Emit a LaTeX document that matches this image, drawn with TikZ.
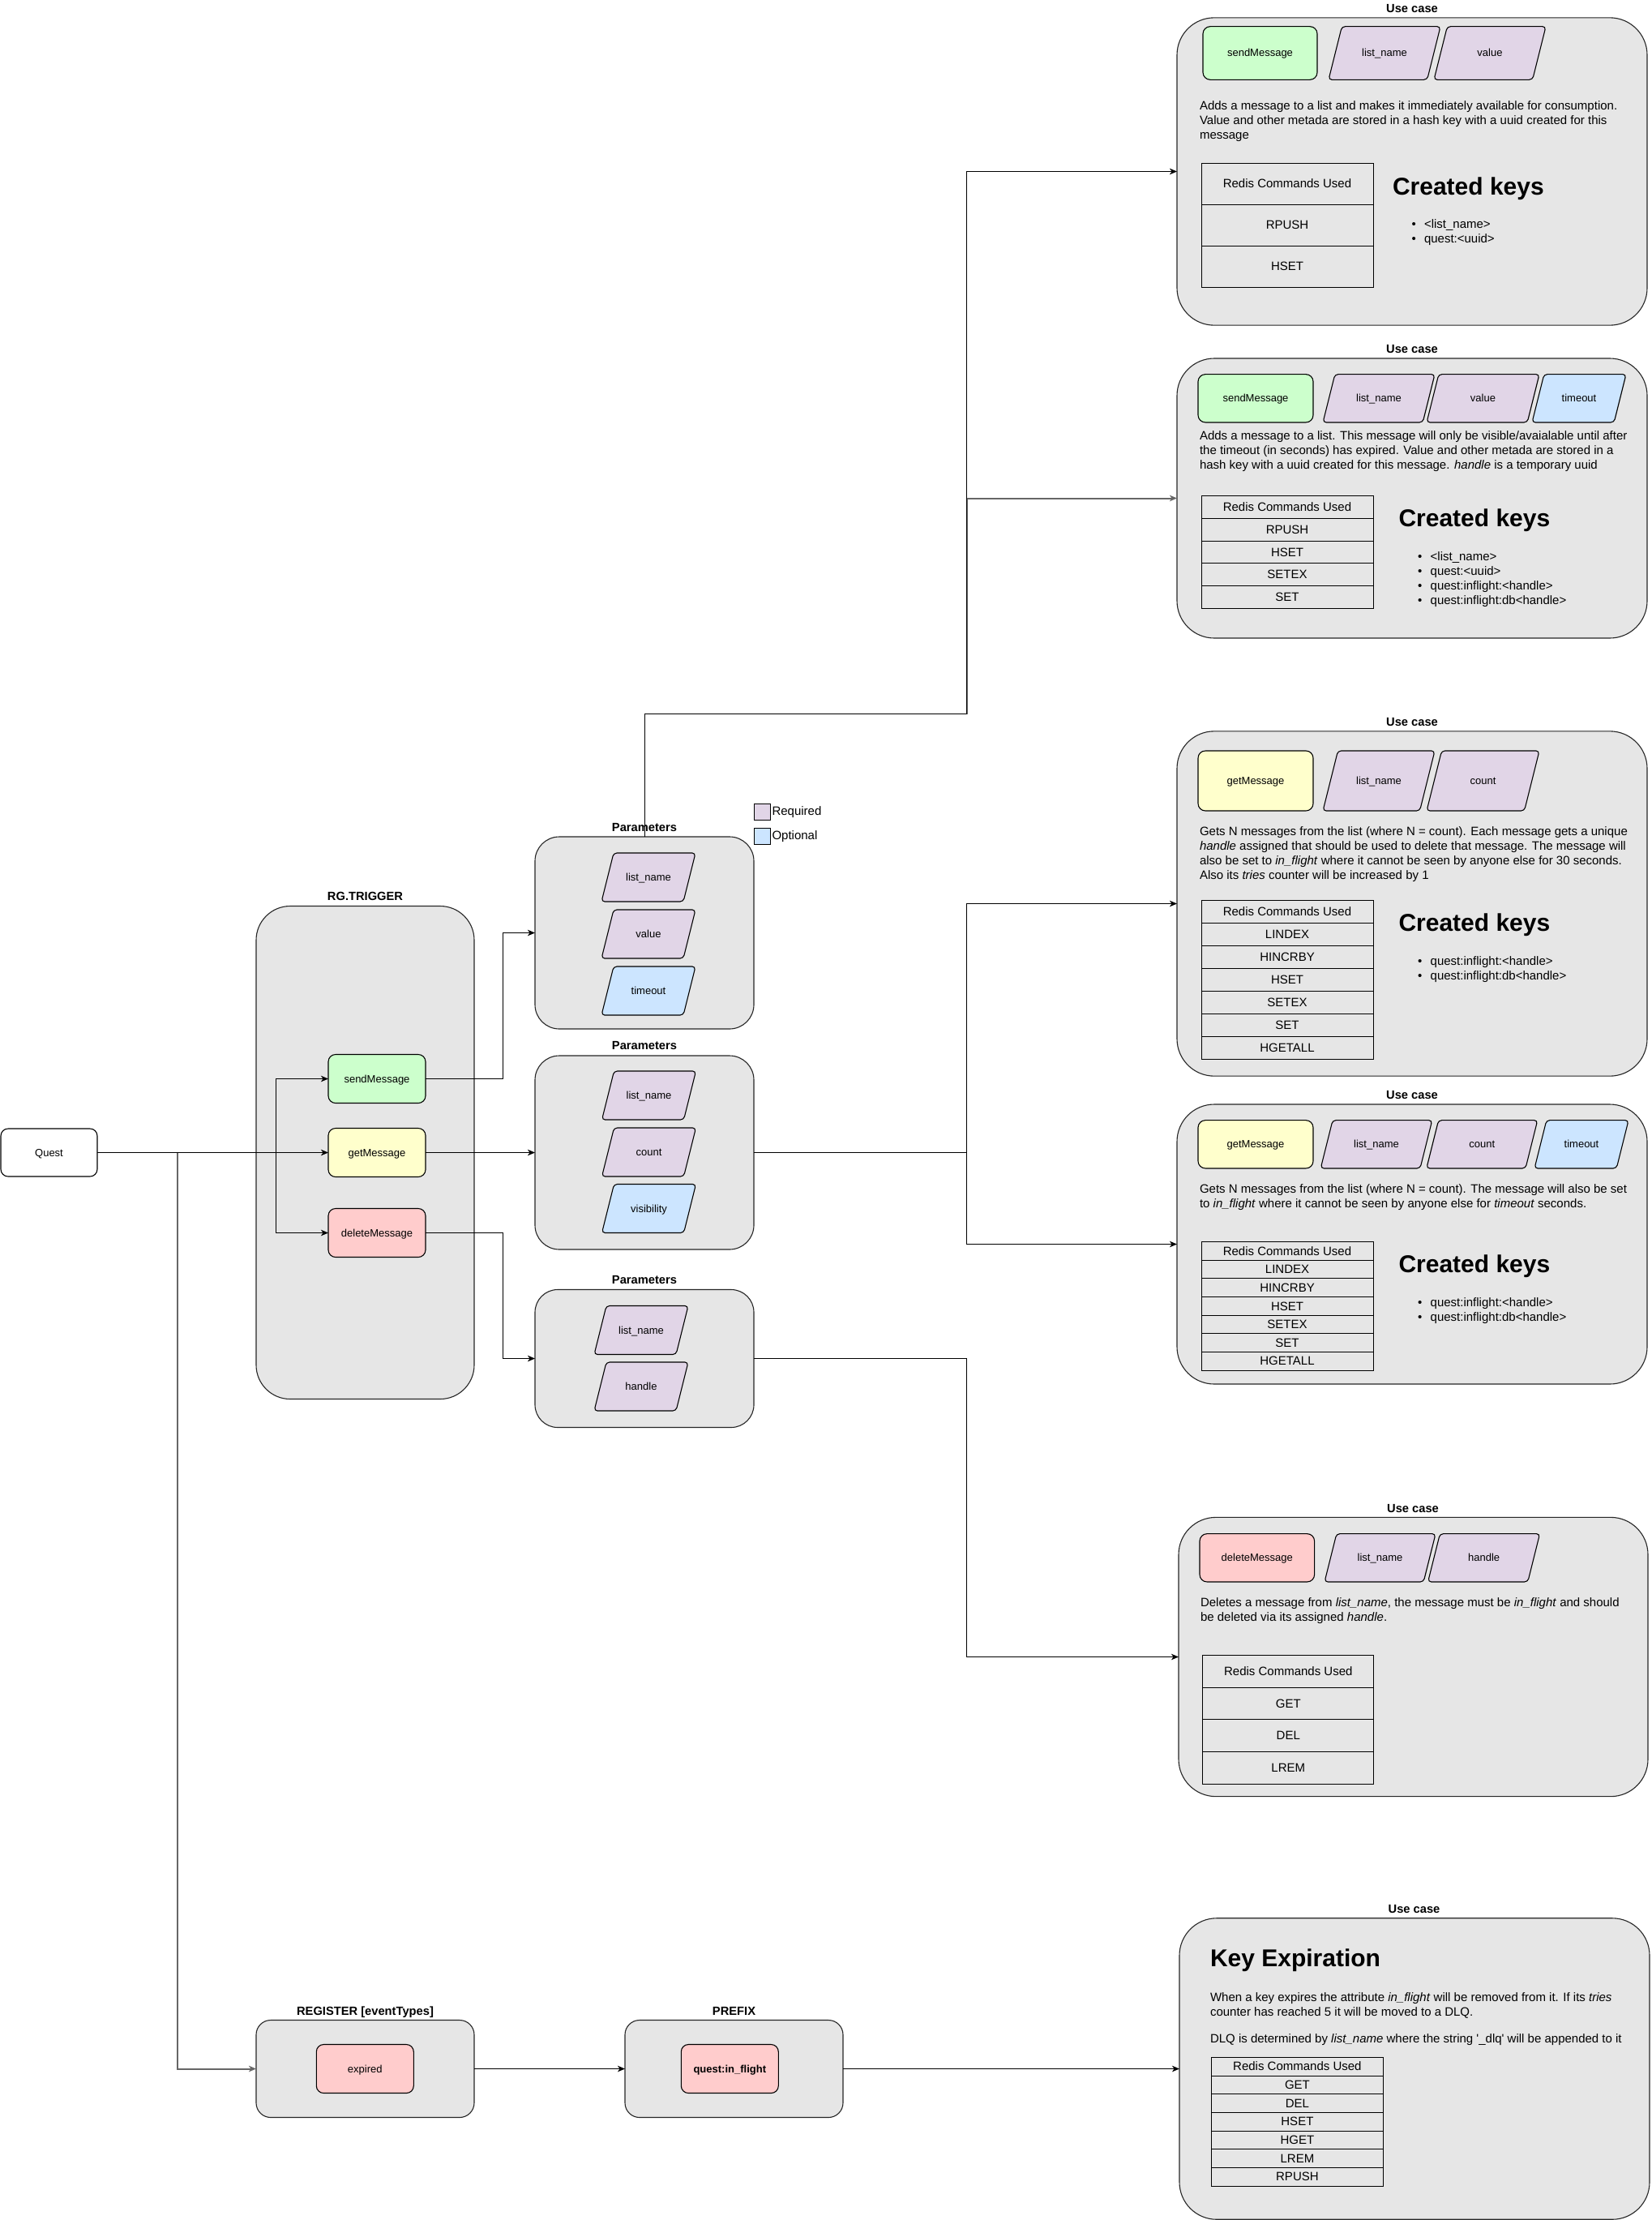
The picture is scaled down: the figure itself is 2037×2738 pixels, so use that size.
\documentclass[tikz,border=0pt]{standalone}
\usepackage{fontspec}
\setmainfont{Liberation Sans}
\usetikzlibrary{arrows.meta}
\definecolor{cgray}{HTML}{E6E6E6}
\definecolor{cgreen}{HTML}{CCFFCC}
\definecolor{cyellow}{HTML}{FFFFCC}
\definecolor{cred}{HTML}{FFCCCC}
\definecolor{cpurple}{HTML}{E1D5E7}
\definecolor{cblue}{HTML}{CCE5FF}
\definecolor{cline}{HTML}{666666}
\newcommand{\flbl}{\fontsize{13}{15}\selectfont}
\newcommand{\fdesc}{\fontsize{15}{18}\selectfont}
\newcommand{\fttl}{\fontsize{14.7}{17}\selectfont\bfseries}
\newcommand{\fhead}{\fontsize{30}{34}\selectfont\bfseries}
\tikzset{
  every node/.style={inner sep=0pt, outer sep=0pt},
  container/.style={draw=black!85, fill=cgray, line width=1.1pt},
  fnode/.style={draw=black, line width=1.1pt, rounded corners=9pt, font=\flbl, text height=11.8pt, text depth=2.8pt},
  lbl/.style={font=\flbl, text height=11.8pt, text depth=2.8pt},
  cell/.style={draw=black, line width=1pt, font=\fdesc, text height=13.6pt, text depth=3.2pt},
  ttl/.style={font=\fttl, anchor=base},
  dtext/.style={font=\fdesc, anchor=base west},
  conn/.style={draw=black, line width=1pt, -{Stealth[length=9pt,width=7.5pt,inset=2.5pt]}},
  gconn/.style={draw=cline, line width=2pt, -{Stealth[length=9pt,width=7.5pt,inset=2.5pt]}},
}
% parallelogram: name, cx, cy, w, h, fill, text
\newcommand{\pgm}[7]{%
  \pgfmathsetmacro{\pgmsl}{0.25*#5}%
  \draw[draw=black, line width=1.1pt, fill=#6, rounded corners=4pt]
    (#2, #3+#5/2) -- (#2-#4/2, #3+#5/2) -- (#2-#4/2+\pgmsl, #3-#5/2)
    -- (#2+#4/2, #3-#5/2) -- (#2+#4/2-\pgmsl, #3+#5/2) -- cycle;
  \node[lbl] (#1) at (#2,#3) {#7};
}
% table: name prefix, xleft, ytop, w, rowh, items
\newcommand{\ctable}[6]{%
  \foreach \t [count=\i from 0] in {#6} {
    \node[cell, minimum width=#4pt, minimum height=#5pt, anchor=north west] (#1\i) at (#2, #3+\i*#5) {\t};
  }
}
% bullet line: name, x, baseline, text
\newcommand{\bl}[4]{\node[dtext] (#1) at (#2,#3) {\makebox[15.5pt][l]{•}#4};}
\begin{document}
\begin{tikzpicture}[x=1pt,y=-1pt]
\useasboundingbox (0,0) rectangle (2037,2738);
\fill[white] (0,0) rectangle (2037,2738);

% ---------- containers ----------
\node[container, rounded corners=42pt, minimum width=269pt, minimum height=608pt] (rg) at (450.5,1421.5) {};
\node[ttl] (trg) at (450.5,1110.5) {RG.TRIGGER};

\node[container, rounded corners=30pt, minimum width=270pt, minimum height=237pt] (p1) at (795,1150.5) {};
\node[ttl] (tp1) at (795,1025.5) {Parameters};
\node[container, rounded corners=30pt, minimum width=270pt, minimum height=239pt] (p2) at (795,1421.5) {};
\node[ttl] (tp2) at (795,1294.5) {Parameters};
\node[container, rounded corners=28pt, minimum width=270pt, minimum height=170pt] (p3) at (795,1675.5) {};
\node[ttl] (tp3) at (795,1583.5) {Parameters};

\node[container, rounded corners=18pt, minimum width=269pt, minimum height=120pt] (reg) at (450.5,2551.5) {};
\node[ttl] (treg) at (450.5,2485.3) {REGISTER [eventTypes]};
\node[container, rounded corners=18pt, minimum width=269pt, minimum height=120pt] (pre) at (905.5,2551.5) {};
\node[ttl] (tpre) at (905.5,2485.3) {PREFIX};

\node[container, rounded corners=46pt, minimum width=580pt, minimum height=379.3pt] (uc1) at (1742,211.5) {};
\node[ttl] (tuc1) at (1742,15.3) {Use case};
\node[container, rounded corners=46pt, minimum width=580pt, minimum height=345pt] (uc2) at (1742,614.5) {};
\node[ttl] (tuc2) at (1742,435.3) {Use case};
\node[container, rounded corners=46pt, minimum width=580pt, minimum height=425.3pt] (uc3) at (1742,1114.5) {};
\node[ttl] (tuc3) at (1742,895.3) {Use case};
\node[container, rounded corners=46pt, minimum width=580pt, minimum height=345pt] (uc4) at (1742,1534.5) {};
\node[ttl] (tuc4) at (1742,1355.3) {Use case};
\node[container, rounded corners=46pt, minimum width=579pt, minimum height=344.3pt] (uc5) at (1743.5,2043.5) {};
\node[ttl] (tuc5) at (1743,1865.3) {Use case};
\node[container, rounded corners=46pt, minimum width=580pt, minimum height=371.5pt] (uc6) at (1745,2551.5) {};
\node[ttl] (tuc6) at (1744.5,2359.3) {Use case};

% ---------- left nodes ----------
\node[fnode, fill=white, minimum width=119pt, minimum height=59pt] (quest) at (60.5,1421.5) {Quest};
\node[fnode, fill=cgreen, minimum width=120pt, minimum height=60pt] (send) at (465,1330.5) {sendMessage};
\node[fnode, fill=cyellow, minimum width=120pt, minimum height=60pt] (get) at (465,1421.5) {getMessage};
\node[fnode, fill=cred, minimum width=120pt, minimum height=60pt] (del) at (465,1520.5) {deleteMessage};
\node[fnode, fill=cred, minimum width=120pt, minimum height=60pt] (expired) at (450.3,2551.5) {expired};
\node[fnode, fill=cred, minimum width=120pt, minimum height=60pt, font=\flbl\bfseries] (qif) at (900.3,2551.5) {quest:in\_flight};

% parameters
\pgm{p1a}{800}{1082}{116}{60}{cpurple}{list\_name}
\pgm{p1b}{800}{1152}{116}{60}{cpurple}{value}
\pgm{p1c}{800}{1222}{116}{60}{cblue}{timeout}
\pgm{p2a}{800.5}{1351}{116}{60}{cpurple}{list\_name}
\pgm{p2b}{800.5}{1421}{116}{60}{cpurple}{count}
\pgm{p2c}{800.5}{1490.5}{116}{60}{cblue}{visibility}
\pgm{p3a}{791}{1640.5}{116}{60}{cpurple}{list\_name}
\pgm{p3b}{791}{1710}{116}{60}{cpurple}{handle}

% legend
\node[draw=black, line width=1pt, fill=cpurple, minimum width=20pt, minimum height=20pt] (lreq) at (940.7,1001.7) {};
\node[dtext, anchor=west, text height=11pt, text depth=3pt] (lreqt) at (952.5,1001.7) {Required};
\node[draw=black, line width=1pt, fill=cblue, minimum width=20pt, minimum height=20pt] (lopt) at (940.7,1031.7) {};
\node[dtext, anchor=west, text height=11pt, text depth=3pt] (loptt) at (952.5,1031.7) {Optional};

% ---------- use case 1 ----------
\node[fnode, fill=cgreen, minimum width=141pt, minimum height=65.6pt] (u1s) at (1554.5,65.5) {sendMessage};
\pgm{u1a}{1708}{65.5}{138}{65.6}{cpurple}{list\_name}
\pgm{u1b}{1838}{65.5}{138}{65.6}{cpurple}{value}
\node[dtext] (d1a) at (1480,135.5) {Adds a message to a list and makes it immediately available for consumption.};
\node[dtext] (d1b) at (1480,153.5) {Value and other metada are stored in a hash key with a uuid created for this};
\node[dtext] (d1c) at (1480,171.5) {message};
\ctable{ta}{1482}{201}{212}{51}{Redis Commands Used,RPUSH,HSET}
\node[font=\fhead, anchor=base west] (ck1) at (1718,240) {Created keys};
\bl{b1a}{1741.5}{281.5}{<list\_name>}
\bl{b1b}{1741.5}{299.5}{quest:<uuid>}

% ---------- use case 2 ----------
\node[fnode, fill=cgreen, minimum width=142pt, minimum height=59.3pt] (u2s) at (1549,491.3) {sendMessage};
\pgm{u2a}{1701}{491.3}{138}{59.3}{cpurple}{list\_name}
\pgm{u2b}{1829.5}{491.3}{139}{59.3}{cpurple}{value}
\pgm{u2c}{1948}{491.3}{116}{59.3}{cblue}{timeout}
\node[dtext] (d2a) at (1480,542.5) {Adds a message to a list. This message will only be visible/avaialable until after};
\node[dtext] (d2b) at (1480,560.5) {the timeout (in seconds) has expired. Value and other metada are stored in a};
\node[dtext] (d2c) at (1480,578.5) {hash key with a uuid created for this message. \textit{handle} is a temporary uuid};
\ctable{tb}{1482}{611.7}{212}{27.66}{Redis Commands Used,RPUSH,HSET,SETEX,SET}
\node[font=\fhead, anchor=base west] (ck2) at (1725.5,649.3) {Created keys};
\bl{b2a}{1749.2}{691.5}{<list\_name>}
\bl{b2b}{1749.2}{709.5}{quest:<uuid>}
\bl{b2c}{1749.2}{727.5}{quest:inflight:<handle>}
\bl{b2d}{1749.2}{745.5}{quest:inflight:db<handle>}

% ---------- use case 3 ----------
\node[fnode, fill=cyellow, minimum width=142pt, minimum height=74pt] (u3g) at (1549,963) {getMessage};
\pgm{u3a}{1701}{963}{138}{74}{cpurple}{list\_name}
\pgm{u3b}{1829.5}{963}{139}{74}{cpurple}{count}
\node[dtext] (d3a) at (1480,1030.5) {Gets N messages from the list (where N = count). Each message gets a unique};
\node[dtext] (d3b) at (1480,1048.5) {\textit{handle} assigned that should be used to delete that message. The message will};
\node[dtext] (d3c) at (1480,1066.5) {also be set to \textit{in\_flight} where it cannot be seen by anyone else for 30 seconds.};
\node[dtext] (d3d) at (1480,1084.5) {Also its \textit{tries} counter will be increased by 1};
\ctable{tc}{1482}{1110}{212}{28}{Redis Commands Used,LINDEX,HINCRBY,HSET,SETEX,SET,HGETALL}
\node[font=\fhead, anchor=base west] (ck3) at (1725.5,1148.3) {Created keys};
\bl{b3a}{1749.2}{1190.5}{quest:inflight:<handle>}
\bl{b3b}{1749.2}{1208.5}{quest:inflight:db<handle>}

% ---------- use case 4 ----------
\node[fnode, fill=cyellow, minimum width=142pt, minimum height=59.3pt] (u4g) at (1549,1411.3) {getMessage};
\pgm{u4a}{1698}{1411.3}{137.6}{59.3}{cpurple}{list\_name}
\pgm{u4b}{1828.3}{1411.3}{137}{59.3}{cpurple}{count}
\pgm{u4c}{1951}{1411.3}{116}{59.3}{cblue}{timeout}
\node[dtext] (d4a) at (1480,1471.5) {Gets N messages from the list (where N = count). The message will also be set};
\node[dtext] (d4b) at (1480,1489.5) {to \textit{in\_flight} where it cannot be seen by anyone else for \textit{timeout} seconds.};
\ctable{td}{1482}{1531.7}{212}{22.62}{Redis Commands Used,LINDEX,HINCRBY,HSET,SETEX,SET,HGETALL}
\node[font=\fhead, anchor=base west] (ck4) at (1725.5,1569.3) {Created keys};
\bl{b4a}{1749.2}{1611.5}{quest:inflight:<handle>}
\bl{b4b}{1749.2}{1629.5}{quest:inflight:db<handle>}

% ---------- use case 5 ----------
\node[fnode, fill=cred, minimum width=141.6pt, minimum height=59.3pt] (u5d) at (1550.8,1921.3) {deleteMessage};
\pgm{u5a}{1702.5}{1921.3}{137}{59.3}{cpurple}{list\_name}
\pgm{u5b}{1830.6}{1921.3}{138}{59.3}{cpurple}{handle}
\node[dtext] (d5a) at (1481,1981.5) {Deletes a message from \textit{list\_name}, the message must be \textit{in\_flight} and should};
\node[dtext] (d5b) at (1481,1999.5) {be deleted via its assigned \textit{handle}.};
\ctable{te}{1483.8}{2041.7}{211}{39.6}{Redis Commands Used,GET,DEL,LREM}

% ---------- use case 6 ----------
\node[font=\fhead, anchor=base west] (ke) at (1493,2425) {Key Expiration};
\node[dtext] (d6a) at (1493,2468) {When a key expires the attribute \textit{in\_flight} will be removed from it. If its \textit{tries}};
\node[dtext] (d6b) at (1493,2486) {counter has reached 5 it will be moved to a DLQ.};
\node[dtext] (d6c) at (1493,2519.5) {DLQ is determined by \textit{list\_name} where the string \textquotesingle\_dlq\textquotesingle{} will be appended to it};
\ctable{tf}{1494.4}{2537.3}{212}{22.67}{Redis Commands Used,GET,DEL,HSET,HGET,LREM,RPUSH}

% ---------- connectors ----------
\coordinate (j0) at (218.5,1421.5);
\coordinate (j1) at (340.5,1421.5);
\coordinate (k1) at (1192.5,880.5);
\coordinate (k2) at (1192.5,1421.5);
\coordinate (k3) at (1192.5,1675.5);
\draw[gconn] (j0) |- (reg.west);
\draw[conn] (quest.east) -- (get.west);
\draw[conn] (j1) |- (send.west);
\draw[conn] (j1) |- (del.west);
\draw[conn] (send.east) -- ++(95.5,0) |- (p1.west);
\draw[conn] (get.east) -- (p2.west);
\draw[conn] (del.east) -- ++(95.5,0) |- (p3.west);
\draw[gconn] (k1) |- (uc2.west);
\draw[conn] (p1.north) |- (k1) |- (uc1.west);
\draw[conn] (p2.east) -- (k2) |- (uc3.west);
\draw[conn] (k2) |- (uc4.west);
\draw[conn] (p3.east) -- (k3) |- (uc5.west);
\draw[conn] (reg.east) -- (pre.west);
\draw[conn] (pre.east) -- (uc6.west);
\end{tikzpicture}
\end{document}
